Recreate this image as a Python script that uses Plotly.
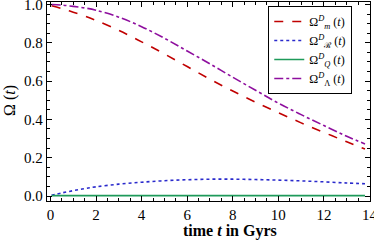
import plotly.graph_objects as go

t = [0.05, 0.5, 1, 1.5, 2, 3, 4, 5, 6, 7, 8, 9, 10, 11, 12, 13, 13.8]
omega_m = [0.993, 0.978, 0.96, 0.94, 0.917, 0.865, 0.805, 0.742, 0.676, 0.61, 0.548, 0.49, 0.435, 0.382, 0.332, 0.283, 0.245]
omega_r = [0.004, 0.016, 0.028, 0.039, 0.048, 0.062, 0.072, 0.080, 0.085, 0.088, 0.088, 0.086, 0.083, 0.079, 0.074, 0.068, 0.064]
omega_q = [0.002] * len(t)
omega_l = [1.0, 0.997, 0.99, 0.982, 0.97, 0.934, 0.884, 0.824, 0.757, 0.69, 0.62, 0.552, 0.485, 0.425, 0.368, 0.312, 0.272]

names = ["Ω<sup><i>D</i></sup><sub><i>m</i></sub> (<i>t</i>)",
         "Ω<sup><i>D</i></sup><sub>ℛ</sub> (<i>t</i>)",
         "Ω<sup><i>D</i></sup><sub><i>Q</i></sub> (<i>t</i>)",
         "Ω<sup><i>D</i></sup><sub>Λ</sub> (<i>t</i>)"]
colors = ["#C00000", "#2A2ACC", "#1E9A5A", "#8E0E9E"]
dashes = ["dash", "dot", "solid", "dashdot"]
series = [omega_m, omega_r, omega_q, omega_l]

FAM = "Liberation Serif"
fig = go.Figure()
for y, n, c, d in zip(series, names, colors, dashes):
    fig.add_trace(go.Scatter(x=t, y=y, mode="lines", name=n, line_shape="spline",
                             line=dict(color=c, width=1.6, dash=d)))

font = dict(family=FAM, size=15, color="black")
axis_common = dict(showline=True, linecolor="black", linewidth=1.3, mirror="allticks",
                   ticks="inside", ticklen=5, tickcolor="black", showgrid=False,
                   zeroline=False, tickfont=font, automargin=False,
                   ticklabeloverflow="allow")
fig.update_layout(
    width=374, height=247,
    margin=dict(l=47, r=4, t=2, b=46),
    plot_bgcolor="white", paper_bgcolor="white",
    font=font,
    xaxis=dict(range=[-0.15, 14.02], tickvals=[0, 2, 4, 6, 8, 10, 12, 14],
               minor=dict(ticks="inside", dtick=0.5, tick0=0, ticklen=3, tickcolor="black"),
               **axis_common),
    yaxis=dict(range=[-0.026, 1.013], tickvals=[0, 0.2, 0.4, 0.6, 0.8, 1.0], tickformat=".1f",
               minor=dict(ticks="inside", dtick=0.05, tick0=0, ticklen=3, tickcolor="black"),
               **axis_common),
    legend=dict(x=0.685, y=0.98, xanchor="left", yanchor="top",
                bgcolor="white", bordercolor="black", borderwidth=1,
                font=dict(family=FAM, size=12, color="black"),
                tracegroupgap=0, itemwidth=30),
    annotations=[
        dict(text="<b>time <i>t</i> in Gyrs</b>", xref="paper", yref="paper",
             x=(230 - 47) / 323, y=-(231 - 201) / 199, xanchor="center", yanchor="middle",
             showarrow=False, font=dict(family=FAM, size=16, color="black")),
        dict(text="Ω (<i>t</i>)", xref="paper", yref="paper",
             x=-(47 - 10) / 323, y=(201 - 101) / 199, xanchor="center", yanchor="middle",
             textangle=-90, showarrow=False, font=dict(family=FAM, size=16, color="black")),
    ],
)
fig.write_html("out.html", config={"displayModeBar": False},
               post_script="document.body.style.margin='0';document.body.style.padding='0';")
